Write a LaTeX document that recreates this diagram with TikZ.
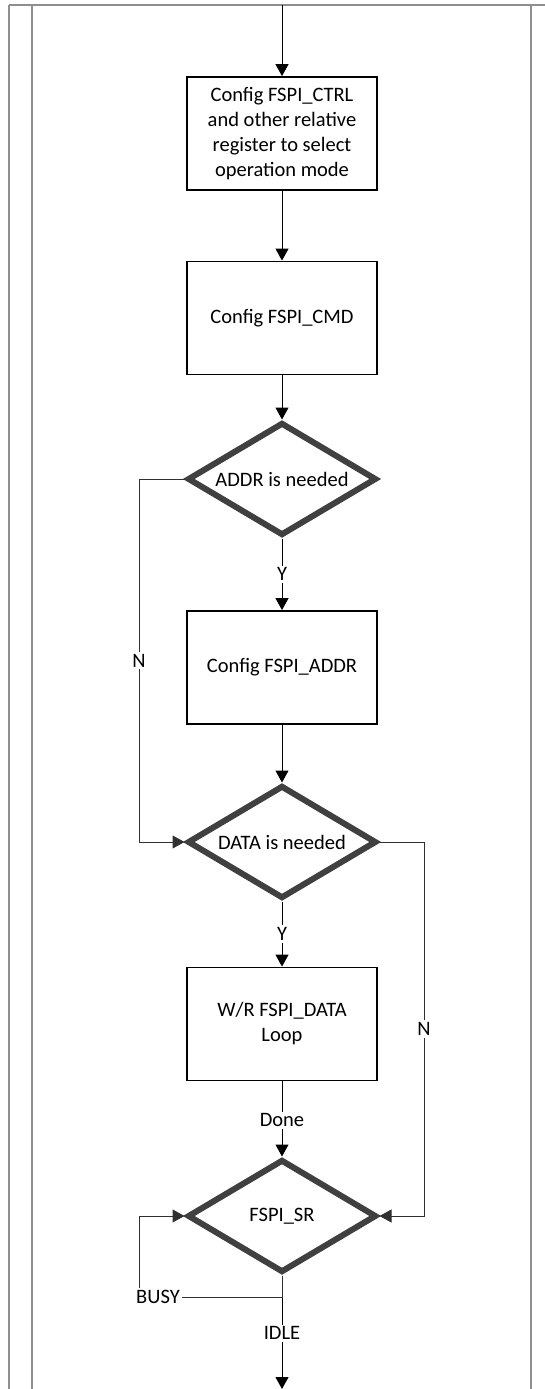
\documentclass[tikz,border=0pt]{standalone}
\usepackage{fontspec}
\setmainfont{Carlito}
\usetikzlibrary{shapes.geometric,arrows.meta}
\definecolor{framegray}{HTML}{8F8F8F}
\definecolor{diagray}{HTML}{404040}
\definecolor{linegray}{HTML}{303030}
\tikzset{
  procbox/.style={draw=black, line width=1.8pt, rectangle, minimum width=190pt, minimum height=113pt, inner sep=0pt, align=center, font=\fontsize{20.5}{25}\selectfont},
  decbox/.style={draw=diagray, line width=6pt, diamond, aspect=1.66, minimum width=189pt, minimum height=113pt, inner sep=0pt, align=center, font=\fontsize{20.5}{25}\selectfont},
  arr/.style={draw=black, line width=1pt, -{Triangle[length=12pt,width=13pt]}},
  conn/.style={draw=linegray, line width=1pt},
  lbl/.style={fill=white, inner sep=2pt, font=\fontsize{20.5}{25}\selectfont},
  frameline/.style={draw=framegray, line width=2pt}
}
\begin{document}
\begin{tikzpicture}[x=1pt,y=-1pt]
\useasboundingbox (0,0) rectangle (545,1389);
% frame
\draw[frameline] (9,5) -- (545,5);
\draw[frameline] (9,5) -- (9,1389);
\draw[frameline] (32,5) -- (32,1389);
\draw[frameline] (531,5) -- (531,1389);
% nodes
\coordinate (top) at (282,5);
\coordinate (bot) at (282,1389);
\node[procbox] (b1) at (282,133.5) {Config FSPI\_CTRL\\and other relative\\register to select\\operation mode};
\node[procbox] (b2) at (282,318) {Config FSPI\_CMD};
\node[decbox] (d1) at (282,479) {ADDR is needed};
\node[procbox] (b3) at (282,667.5) {Config FSPI\_ADDR};
\node[decbox] (d2) at (282,842) {DATA is needed};
\node[procbox] (b4) at (282,1024) {W/R FSPI\_DATA\\Loop};
\node[decbox] (d3) at (282,1216) {FSPI\_SR};
\coordinate (nl) at (139,479);
\coordinate (nr) at (424,842);
\coordinate (bc) at (139,1297);
% connectors
\draw[arr] (top) -- (b1);
\draw[arr] (b1) -- (b2);
\draw[arr] (b2) -- (d1);
\draw[arr] (d1) -- node[lbl] {Y} (b3);
\draw[arr] (b3) -- (d2);
\draw[arr] (d2) -- node[lbl] {Y} (b4);
\draw[arr] (b4) -- node[lbl, pos=0.52] {Done} (d3);
\draw[arr] (d3) -- node[lbl, pos=0.51] {IDLE} (bot);
\draw[conn] (d1.west) -- (nl);
\draw[arr, draw=linegray] (nl) |- node[lbl, pos=0.25] {N} (d2.west);
\draw[conn] (d2.east) -- (nr);
\draw[arr, draw=linegray] (nr) |- node[lbl, pos=0.25] {N} (d3.east);
\draw[arr, draw=linegray] (d3.south) |- (bc) |- (d3.west);
\node[lbl] (busy) at (158,1297) {BUSY};
\end{tikzpicture}
\end{document}
